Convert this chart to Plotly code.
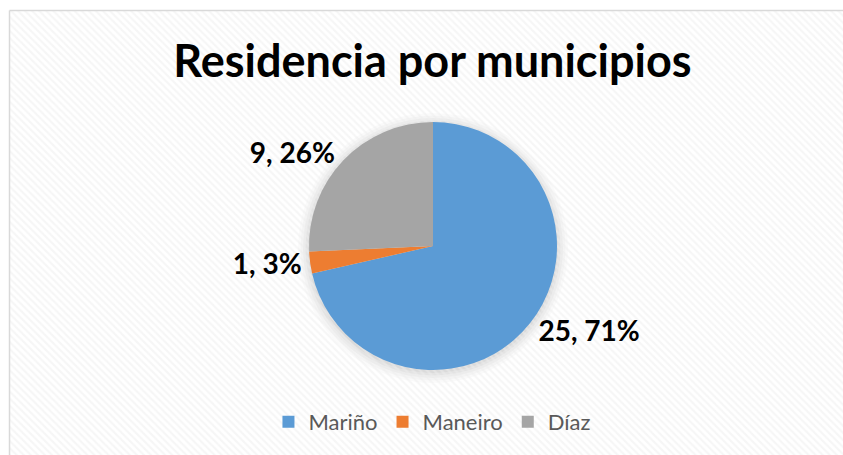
import plotly.graph_objects as go

categories = ["Mariño", "Maneiro", "Díaz"]
values = [25, 1, 9]
colors = ["#5B9BD5", "#ED7D31", "#A5A5A5"]
title_text = "Residencia por municipios"

W, H = 843, 455
fx0, fy0 = 9.5, 10.5  # frame top-left in px
FONT = "Lato, Carlito, Open Sans, sans-serif"

# pie placement (pixels)
cx, cy, R = 433, 246, 124

fig = go.Figure()

# hatched chart-area background (decorative)
fig.add_trace(go.Scatter(
    x=[fx0 / W, 1.0, 1.0, fx0 / W, fx0 / W],
    y=[1 - fy0 / H, 1 - fy0 / H, 0.0, 0.0, 1 - fy0 / H],
    mode="lines", fill="toself", line=dict(width=0, color="rgba(0,0,0,0)"),
    fillcolor="rgba(0,0,0,0)",
    fillpattern=dict(shape="\\", fgcolor="#EEEEEE", bgcolor="rgba(0,0,0,0)", size=5, solidity=0.45),
    hoverinfo="skip", showlegend=False, xaxis="x", yaxis="y",
))

shapes = [
    dict(type="line", xref="paper", yref="paper", x0=fx0 / W, x1=1.0, y0=1 - fy0 / H, y1=1 - fy0 / H,
         line=dict(color="#D9D9D9", width=1.5)),
    dict(type="line", xref="paper", yref="paper", x0=fx0 / W, x1=fx0 / W, y0=0, y1=1 - fy0 / H,
         line=dict(color="#D9D9D9", width=1.5)),
]
# soft shadow around the pie
for i, a in enumerate([0.02, 0.025, 0.03, 0.035, 0.04]):
    r = R + 11 - i * 2.5
    shapes.append(dict(type="circle", xref="paper", yref="paper", layer="below",
                       x0=(cx - r) / W, x1=(cx + r) / W, y0=1 - (cy + 2 + r) / H, y1=1 - (cy + 2 - r) / H,
                       fillcolor="rgba(0,0,0,%s)" % a, line=dict(width=0)))

fig.add_trace(go.Pie(
    labels=categories, values=values,
    marker=dict(colors=colors, line=dict(width=0)),
    sort=False, direction="clockwise", rotation=0,
    texttemplate="<b>%{value}, %{percent:.0%}</b>",
    textposition="outside",
    textfont=dict(family=FONT, size=28, color="#000000"),
    domain=dict(x=[(cx - R) / W, (cx + R) / W], y=[1 - (cy + R) / H, 1 - (cy - R) / H]),
    showlegend=True,
))

fig.update_layout(
    width=W, height=H,
    margin=dict(l=0, r=0, t=0, b=0),
    paper_bgcolor="white", plot_bgcolor="rgba(0,0,0,0)",
    xaxis=dict(range=[0, 1], visible=False, fixedrange=True, domain=[0, 1]),
    yaxis=dict(range=[0, 1], visible=False, fixedrange=True, domain=[0, 1]),
    shapes=shapes,
    title=dict(text="<b>" + title_text + "</b>", x=0.513, xanchor="center",
               y=1 - 61 / H, yanchor="middle",
               font=dict(family=FONT, size=45, color="#000000")),
    legend=dict(orientation="h", x=0.513, xanchor="center", y=1 - 422 / H, yanchor="middle",
                font=dict(family=FONT, size=22, color="#595959"),
                bgcolor="rgba(0,0,0,0)", itemwidth=30),
    showlegend=True,
)

fig.write_html("out.html", config={"displayModeBar": False},
               post_script=("document.body.style.margin='0';document.body.style.overflow='hidden';"
                            "document.documentElement.style.overflow='hidden';"))
